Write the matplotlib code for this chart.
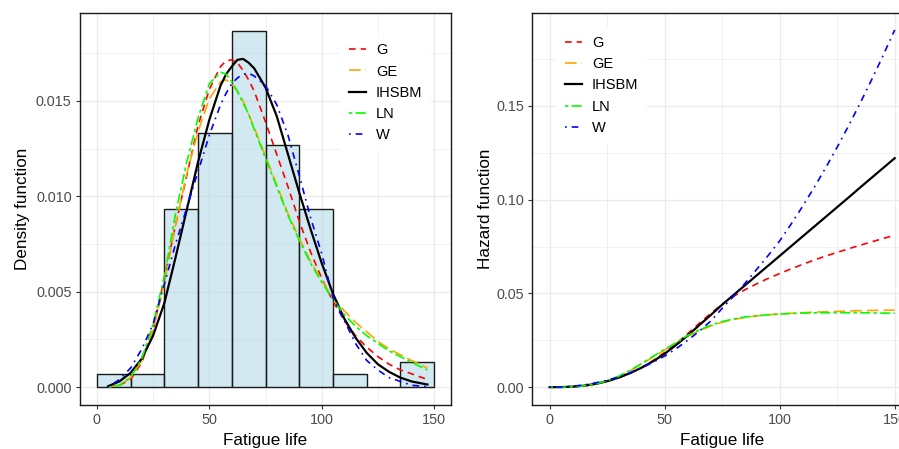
import matplotlib
matplotlib.use("Agg")
import matplotlib.pyplot as plt
from matplotlib.ticker import MultipleLocator, FixedLocator

plt.rcParams['font.family'] = ['Liberation Sans', 'DejaVu Sans']

# histogram of the fatigue life data (bin width 15)
bin_edges = [0, 15, 30, 45, 60, 75, 90, 105, 120, 135, 150]
bin_counts = [1, 1, 14, 20, 28, 19, 14, 1, 0, 2]

# fitted densities
dens_x = [5, 10, 15, 20, 25, 30, 35, 40, 45, 50, 55, 57.5, 60, 62.5, 65, 67.5,
          70, 75, 80, 85, 90, 95, 100, 105, 110, 115, 120, 125, 130, 135, 140, 147]
dens_G = [0.00003, 0.0001, 0.0004, 0.0013, 0.0030, 0.0057, 0.0085, 0.0111, 0.0137,
          0.0156, 0.0168, 0.0171, 0.01715, 0.0170, 0.0166, 0.0161, 0.0155, 0.0139,
          0.0122, 0.0105, 0.0087, 0.0071, 0.0057, 0.0045, 0.0035, 0.0027, 0.0021,
          0.0016, 0.0012, 0.0009, 0.0007, 0.0004]
dens_GE = [0.00002, 0.0001, 0.0005, 0.0014, 0.0030, 0.0054, 0.0085, 0.0112, 0.0134,
           0.0151, 0.0160, 0.0161, 0.0159, 0.0155, 0.0150, 0.0143, 0.0136, 0.0121,
           0.0106, 0.0091, 0.0078, 0.0066, 0.0056, 0.0047, 0.0040, 0.0034, 0.0029,
           0.0024, 0.0020, 0.0017, 0.0014, 0.0010]
dens_IHSBM = [0.00005, 0.0003, 0.00075, 0.0015, 0.0027, 0.0044, 0.0068, 0.0093, 0.0118,
              0.0140, 0.0158, 0.0164, 0.0168, 0.01715, 0.0172, 0.0170, 0.0167, 0.0157,
              0.0142, 0.0122, 0.0102, 0.0083, 0.0065, 0.0049, 0.0036, 0.0026, 0.0018,
              0.0012, 0.0008, 0.0005, 0.0003, 0.00014]
dens_LN = [0.0, 0.0001, 0.0005, 0.0015, 0.0033, 0.0058, 0.0091, 0.0118, 0.0141,
           0.0159, 0.0165, 0.0164, 0.0160, 0.0155, 0.0149, 0.0143, 0.0135, 0.0120,
           0.0105, 0.0090, 0.0077, 0.0065, 0.0055, 0.0046, 0.0038, 0.0032, 0.0027,
           0.0023, 0.0019, 0.0016, 0.0013, 0.0009]
dens_W = [0.0, 0.0004, 0.0010, 0.0020, 0.0033, 0.0054, 0.0075, 0.0094, 0.0113,
          0.0132, 0.0148, 0.0154, 0.0159, 0.0162, 0.0164, 0.01645, 0.0163, 0.0158,
          0.0148, 0.0132, 0.0111, 0.0089, 0.0070, 0.0047, 0.0035, 0.0023, 0.0014,
          0.0009, 0.0005, 0.0003, 0.0001, 0.00003]

# fitted hazard functions
haz_x = [0, 5, 10, 15, 20, 25, 30, 35, 40, 45, 50, 55, 60, 65, 70, 75, 80, 85, 90,
         95, 100, 105, 110, 115, 120, 125, 130, 135, 140, 145, 150]
haz_G = [0, 0.0, 0.0002, 0.0007, 0.0016, 0.0030, 0.0049, 0.0074, 0.0104, 0.0142,
         0.0185, 0.0232, 0.0285, 0.0340, 0.0393, 0.0442, 0.0485, 0.0520, 0.0551,
         0.0580, 0.0606, 0.0631, 0.0655, 0.0678, 0.0699, 0.0719, 0.0738, 0.0757,
         0.0775, 0.0793, 0.0810]
haz_GE = [0, 0.0, 0.0001, 0.0006, 0.0015, 0.0031, 0.0055, 0.0087, 0.0123, 0.0161,
          0.0198, 0.0235, 0.0271, 0.0301, 0.0326, 0.0346, 0.0361, 0.0372, 0.0380,
          0.0386, 0.0390, 0.0394, 0.0397, 0.0400, 0.0402, 0.0404, 0.0406, 0.0408,
          0.0409, 0.0410, 0.0411]
haz_IHSBM = [0, 0.00003, 0.0003, 0.0008, 0.0018, 0.0032, 0.0051, 0.0075, 0.0104,
             0.0138, 0.0178, 0.0225, 0.0275, 0.0330, 0.0384, 0.0440, 0.0492, 0.0544,
             0.0596, 0.0648, 0.0700, 0.0752, 0.0804, 0.0856, 0.0908, 0.0960, 0.1012,
             0.1065, 0.1117, 0.1169, 0.1221]
haz_LN = [0, 0.0, 0.0002, 0.0007, 0.0017, 0.0034, 0.0058, 0.0090, 0.0126, 0.0164,
          0.0201, 0.0238, 0.0275, 0.0305, 0.0330, 0.0350, 0.0364, 0.0374, 0.0381,
          0.0386, 0.0390, 0.0393, 0.0395, 0.0396, 0.0397, 0.0397, 0.0397, 0.0397,
          0.0396, 0.0395, 0.0394]
haz_W = [0, 0.0001, 0.0005, 0.0012, 0.0023, 0.0037, 0.0055, 0.0077, 0.0103, 0.0133,
         0.0166, 0.0205, 0.0250, 0.0298, 0.0352, 0.0420, 0.0485, 0.0555, 0.0628,
         0.0702, 0.0780, 0.0870, 0.0965, 0.1065, 0.1170, 0.1280, 0.1395, 0.1515,
         0.1640, 0.1770, 0.1905]

models = ['G', 'GE', 'IHSBM', 'LN', 'W']
colors = {'G': '#FF0000', 'GE': '#FFA500', 'IHSBM': 'black', 'LN': '#00FF00', 'W': '#0000FF'}
dashes = {'G': (4, 3), 'GE': (7, 3), 'IHSBM': (), 'LN': (2, 2, 6, 2), 'W': (1, 3, 4, 3)}
widths = {'G': 1.2, 'GE': 1.2, 'IHSBM': 1.6, 'LN': 1.2, 'W': 1.2}

dens = {'G': dens_G, 'GE': dens_GE, 'IHSBM': dens_IHSBM, 'LN': dens_LN, 'W': dens_W}
haz = {'G': haz_G, 'GE': haz_GE, 'IHSBM': haz_IHSBM, 'LN': haz_LN, 'W': haz_W}

TICK_FS = 10.4
TITLE_FS = 12.3
LEG_FS = 10.5

W, H = 899, 449
fig = plt.figure(figsize=(W / 100, H / 100), dpi=100)
ax1 = fig.add_axes([80 / W, 44 / H, 371 / W, 392 / H])
ax2 = fig.add_axes([532.3 / W, 44 / H, 379.7 / W, 392 / H])


def style(ax, ymajor, yminor, ymax, fmt):
    ax.set_xlim(-7.5, 157.5)
    ax.set_ylim(-0.05 * ymax, 1.05 * ymax)
    ax.xaxis.set_major_locator(FixedLocator([0, 50, 100, 150]))
    ax.xaxis.set_minor_locator(FixedLocator([25, 75, 125]))
    ax.yaxis.set_major_locator(MultipleLocator(ymajor))
    ax.yaxis.set_minor_locator(MultipleLocator(yminor))
    ax.yaxis.set_major_formatter(lambda v, p: fmt % v)
    ax.grid(which='major', color='#EBEBEB', lw=1.0, zorder=0)
    ax.grid(which='minor', color='#EBEBEB', lw=0.5, zorder=0)
    ax.set_axisbelow(True)
    for s in ax.spines.values():
        s.set_color('#1A1A1A')
        s.set_linewidth(1.0)
    ax.tick_params(which='major', length=3, width=0.8, color='#333333',
                   labelcolor='#4D4D4D', labelsize=TICK_FS, pad=3)
    ax.tick_params(which='minor', length=0)


def add_legend(ax, anchor):
    ax.legend(loc='upper left', bbox_to_anchor=anchor, frameon=True,
              facecolor='white', edgecolor='none', framealpha=1, fontsize=LEG_FS,
              handlelength=1.16, handletextpad=0.69, labelspacing=0.5,
              borderpad=0.6, borderaxespad=0)


# density panel
dens_vals = [c / (sum(bin_counts) * 15) for c in bin_counts]
ax1.bar(bin_edges[:-1], dens_vals, width=15, align='edge',
        facecolor=(0.678, 0.847, 0.902, 0.55), edgecolor='#1A1A1A', lw=1.0, zorder=2)
for m in models:
    ax1.plot(dens_x, dens[m], color=colors[m], lw=widths[m], dashes=dashes[m],
             label=m, zorder=3)
style(ax1, 0.005, 0.0025, 0.01867, '%.3f')
ax1.set_xlabel('Fatigue life', fontsize=TITLE_FS)
ax1.set_ylabel('Density function', fontsize=TITLE_FS)
ax1.xaxis.set_label_coords(0.5, -0.072)
ax1.yaxis.set_label_coords(-0.134, 0.5)
add_legend(ax1, (0.7015, 0.945))

# hazard panel
for m in models:
    ax2.plot(haz_x, haz[m], color=colors[m], lw=widths[m], dashes=dashes[m],
             label=m, zorder=3)
style(ax2, 0.05, 0.025, 0.19, '%.2f')
ax2.set_xlabel('Fatigue life', fontsize=TITLE_FS)
ax2.set_ylabel('Hazard function', fontsize=TITLE_FS)
ax2.xaxis.set_label_coords(0.5, -0.072)
ax2.yaxis.set_label_coords(-0.104, 0.5)
add_legend(ax2, (0.063, 0.964))

fig.savefig('out.png', dpi=100)
